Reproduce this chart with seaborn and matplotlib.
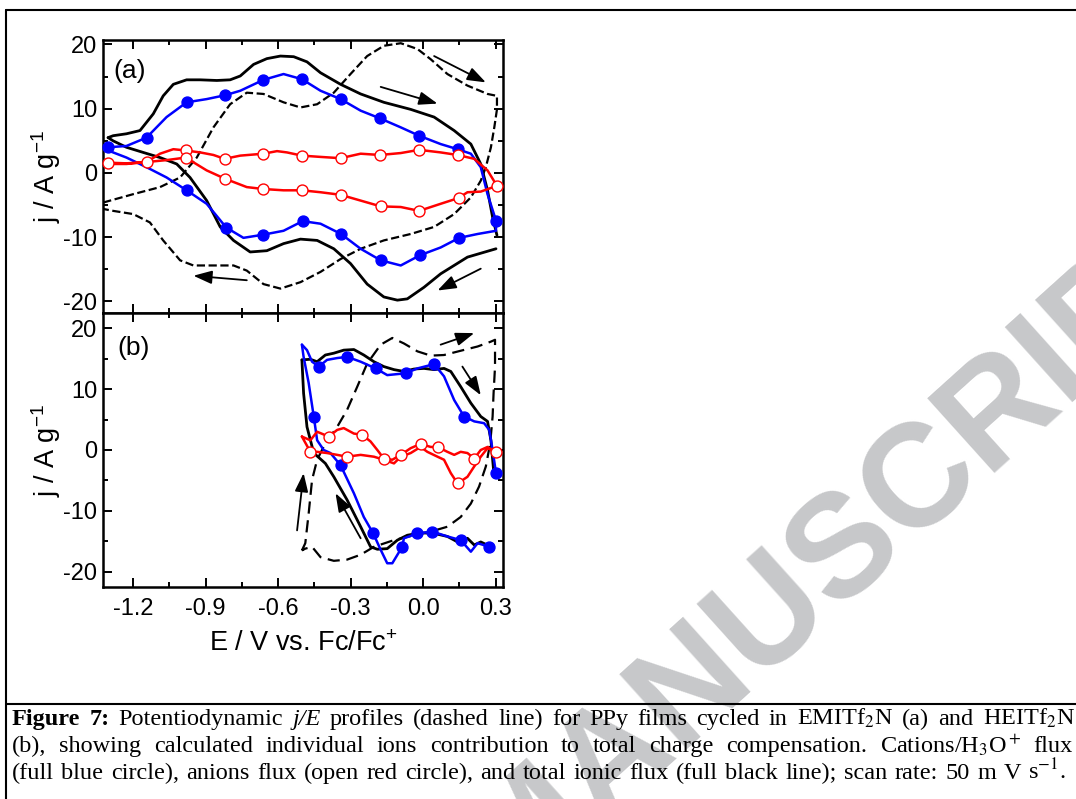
import matplotlib
matplotlib.use('Agg')
import matplotlib.pyplot as plt
import seaborn as sns
from matplotlib.lines import Line2D
from matplotlib.ticker import MultipleLocator

# ---- panel (a): EMITf2N ----
# dashed j/E profile (closed loop)
E_cv_a = [-1.324, -1.200, -1.089, -1.006, -0.937, -0.868, -0.799, -0.730, -0.661, -0.578,
          -0.508, -0.439, -0.370, -0.301, -0.232, -0.163, -0.093, -0.024, 0.031, 0.100,
          0.183, 0.266, 0.305, 0.305, 0.294, 0.280, 0.259, 0.238, 0.197, 0.128,
          0.045, -0.052, -0.163, -0.259, -0.342, -0.425, -0.508, -0.591, -0.661, -0.730,
          -0.785, -0.868, -0.951, -1.006, -1.076, -1.131, -1.200, -1.283, -1.324]
j_cv_a = [-4.6, -3.3, -2.2, -0.7, 2.4, 7.1, 10.7, 12.5, 12.3, 11.0,
          10.2, 10.7, 12.5, 15.4, 18.2, 19.8, 20.2, 19.3, 17.7, 15.4,
          13.6, 12.3, 12.0, 9.9, 7.1, 4.0, 0.9, -1.2, -3.8, -6.4,
          -8.4, -9.5, -10.5, -11.8, -13.4, -15.4, -17.0, -18.0, -17.3, -15.2,
          -14.4, -14.4, -14.4, -13.6, -10.5, -7.7, -6.4, -5.9, -5.6]

# total ionic flux (black), anodic and cathodic branches
E_tot_a_fwd = [-1.304, -1.283, -1.228, -1.172, -1.117, -1.076, -1.034, -0.979, -0.923, -0.854,
               -0.799, -0.757, -0.702, -0.647, -0.591, -0.536, -0.481, -0.425, -0.342, -0.259,
               -0.163, -0.052, 0.045, 0.128, 0.197, 0.238, 0.266, 0.287, 0.305]
j_tot_a_fwd = [5.5, 5.8, 6.1, 6.6, 9.2, 12.0, 13.8, 14.5, 14.5, 14.4,
               14.5, 15.1, 16.9, 17.8, 18.2, 18.1, 17.3, 15.6, 13.8, 12.3,
               11.0, 9.9, 8.7, 6.6, 4.5, 1.4, -2.7, -6.9, -9.7]
E_tot_a_rev = [0.301, 0.183, 0.072, 0.003, -0.066, -0.107, -0.163, -0.232, -0.301, -0.370,
               -0.439, -0.508, -0.578, -0.647, -0.716, -0.785, -0.840, -0.896, -0.965, -1.020,
               -1.089, -1.159, -1.228, -1.283, -1.304]
j_tot_a_rev = [-11.8, -13.1, -15.7, -17.8, -19.6, -19.8, -19.3, -17.3, -14.1, -11.8,
               -10.5, -10.3, -11.0, -12.1, -12.3, -10.5, -8.4, -4.3, -0.7, 1.4,
               2.4, 3.2, 4.0, 5.0, 5.5]

# cations / H3O+ flux (blue)
E_cat_a = [-1.304, -1.228, -1.145, -1.062, -0.979, -0.896, -0.820, -0.757, -0.661, -0.578,
           -0.502, -0.425, -0.342, -0.259, -0.179, -0.093, -0.017, 0.072, 0.142, 0.197,
           0.238, 0.266, 0.301, 0.301, 0.225, 0.149, 0.072, -0.013, -0.093, -0.176,
           -0.259, -0.340, -0.425, -0.499, -0.578, -0.661, -0.744, -0.815, -0.896, -0.979,
           -1.062, -1.145, -1.228, -1.304]
j_cat_a = [4.0, 4.2, 5.5, 8.7, 11.0, 11.5, 12.1, 12.8, 14.5, 15.4,
           14.6, 12.8, 11.5, 9.7, 8.5, 7.1, 5.8, 4.5, 3.7, 3.0,
           0.9, -3.3, -7.4, -9.0, -9.5, -10.1, -11.6, -12.8, -14.4, -13.6,
           -11.8, -9.5, -7.9, -7.5, -9.0, -9.6, -10.1, -8.5, -4.8, -2.7,
           -0.7, 0.9, 2.4, 3.5]
E_cat_a_pts = [-1.304, -1.145, -0.979, -0.820, -0.661, -0.502, -0.342, -0.179, -0.017, 0.142,
               0.301, 0.149, -0.013, -0.176, -0.340, -0.499, -0.661, -0.815, -0.979]
j_cat_a_pts = [4.0, 5.5, 11.0, 12.1, 14.5, 14.6, 11.5, 8.5, 5.8, 3.7,
               -7.4, -10.1, -12.8, -13.6, -9.5, -7.5, -9.6, -8.5, -2.7]

# anions flux (red)
E_an_a = [-1.304, -1.228, -1.145, -1.089, -1.034, -0.983, -0.923, -0.868, -0.822, -0.757,
          -0.661, -0.605, -0.564, -0.502, -0.425, -0.342, -0.259, -0.179, -0.093, -0.017,
          0.072, 0.142, 0.211, 0.266, 0.305, 0.238, 0.183, 0.146, 0.072, -0.017,
          -0.093, -0.176, -0.259, -0.342, -0.425, -0.502, -0.578, -0.661, -0.730, -0.820,
          -0.896, -0.983, -1.062, -1.145, -1.228, -1.304]
j_an_a = [1.4, 1.4, 1.7, 3.0, 3.7, 3.5, 3.2, 2.8, 2.2, 2.7,
          3.0, 3.4, 3.2, 2.7, 2.5, 2.3, 3.0, 2.8, 3.1, 3.6,
          3.2, 2.8, 2.2, 0.4, -2.0, -2.9, -3.0, -3.9, -4.8, -5.9,
          -5.3, -5.2, -4.3, -3.4, -3.0, -2.7, -2.7, -2.5, -2.2, -0.9,
          0.4, 2.4, 2.0, 1.7, 1.5, 1.6]
E_an_a_pts = [-1.304, -1.145, -0.983, -0.983, -0.822, -0.661, -0.502, -0.342, -0.179, -0.017,
              0.142, 0.305, 0.146, -0.017, -0.176, -0.342, -0.502, -0.661, -0.820]
j_an_a_pts = [1.6, 1.7, 3.5, 2.4, 2.2, 3.0, 2.7, 2.3, 2.8, 3.6,
              2.8, -2.0, -3.9, -5.9, -5.2, -3.4, -2.7, -2.5, -0.9]

# scan direction arrows (tail E, tail j, head E, head j)
arrows_a = [(0.045, 18.2, 0.259, 14.1), (-0.176, 13.4, 0.059, 10.8),
            (0.238, -14.9, 0.059, -18.3), (-0.730, -16.7, -0.951, -16.0)]

# ---- panel (b): HEITf2N ----
E_cv_b = [-0.502, -0.488, -0.474, -0.460, -0.439, -0.405, -0.356, -0.315, -0.273, -0.232,
          -0.176, -0.128, -0.080, -0.024, 0.031, 0.086, 0.155, 0.225, 0.280, 0.297,
          0.297, 0.291, 0.287, 0.277, 0.259, 0.231, 0.197, 0.155, 0.100, 0.031,
          -0.038, -0.121, -0.204, -0.259, -0.315, -0.370, -0.425, -0.460, -0.488, -0.502]
j_cv_b = [-16.5, -15.3, -10.4, -4.9, -1.6, 1.1, 3.8, 6.6, 10.4, 14.2,
          17.3, 18.4, 17.5, 16.2, 15.5, 15.6, 16.3, 17.0, 17.8, 18.1,
          13.7, 9.3, 5.5, 1.1, -2.7, -6.0, -8.8, -11.0, -12.6, -13.4,
          -14.0, -14.8, -15.9, -17.2, -18.0, -18.2, -17.6, -15.9, -16.2, -16.5]

E_tot_b_fwd = [-0.502, -0.467, -0.439, -0.405, -0.370, -0.329, -0.287, -0.246, -0.204, -0.163,
               -0.121, -0.080, -0.038, 0.003, 0.045, 0.086, 0.114, 0.155, 0.197, 0.238,
               0.266, 0.280, 0.291]
j_tot_b_fwd = [14.8, 14.9, 14.5, 15.6, 15.9, 16.4, 16.5, 15.6, 14.5, 13.7,
               13.2, 12.9, 13.3, 13.4, 13.2, 13.4, 12.9, 10.4, 7.7, 5.5,
               4.7, 1.6, -3.3]
E_tot_b_rev = [0.280, 0.238, 0.211, 0.183, 0.142, 0.100, 0.045, -0.011, -0.066, -0.107,
               -0.149, -0.190, -0.218, -0.259, -0.315, -0.370, -0.405, -0.453, -0.481, -0.495,
               -0.502]
j_tot_b_rev = [-15.9, -15.1, -15.6, -14.5, -15.1, -14.2, -13.7, -13.6, -14.0, -14.8,
               -16.2, -16.3, -15.9, -12.6, -8.2, -4.4, -2.2, -0.5, 3.8, 9.3,
               14.8]

E_cat_b_fwd = [-0.502, -0.481, -0.460, -0.432, -0.398, -0.356, -0.315, -0.259, -0.197, -0.149,
               -0.073, -0.024, 0.045, 0.086, 0.128, 0.169, 0.211, 0.252, 0.273, 0.287,
               0.301]
j_cat_b_fwd = [17.3, 16.4, 14.5, 13.7, 14.8, 15.1, 15.3, 14.5, 13.4, 12.3,
               12.6, 13.4, 14.1, 12.1, 8.2, 5.5, 4.7, 4.4, 3.3, 0.0,
               -3.8]
E_cat_b_rev = [0.273, 0.225, 0.197, 0.155, 0.100, 0.038, -0.024, -0.080, -0.087, -0.128,
               -0.149, -0.176, -0.207, -0.246, -0.287, -0.342, -0.384, -0.412, -0.439, -0.453,
               -0.474, -0.495, -0.502]
j_cat_b_rev = [-15.9, -15.3, -16.7, -14.8, -14.2, -13.4, -13.7, -14.5, -15.9, -18.6,
               -18.6, -16.4, -13.7, -11.0, -7.1, -2.5, -0.5, 0.0, 1.6, 5.5,
               11.0, 15.3, 17.3]
E_cat_b_pts = [-0.432, -0.315, -0.197, -0.073, 0.045, 0.169, 0.301, 0.273, 0.155, 0.038,
               -0.024, -0.087, -0.207, -0.342, -0.453]
j_cat_b_pts = [13.7, 15.3, 13.4, 12.6, 14.1, 5.5, -3.8, -15.9, -14.8, -13.4,
               -13.7, -15.9, -13.7, -2.5, 5.5]

E_an_b = [-0.502, -0.467, -0.439, -0.391, -0.356, -0.329, -0.287, -0.253, -0.218, -0.190,
          -0.163, -0.128, -0.093, -0.052, -0.011, 0.031, 0.059, 0.100, 0.128, 0.155,
          0.183, 0.211, 0.238, 0.266, 0.301, 0.266, 0.238, 0.211, 0.183, 0.142,
          0.114, 0.086, 0.059, 0.017, -0.011, -0.052, -0.093, -0.121, -0.163, -0.204,
          -0.259, -0.315, -0.356, -0.398, -0.439, -0.467, -0.502]
j_an_b = [2.2, 1.6, 3.0, 2.2, 3.3, 3.6, 2.7, 2.5, 1.4, 0.0,
          -1.4, -1.6, -0.8, 0.3, 1.0, 0.5, 0.5, -0.3, -0.8, -0.3,
          -0.5, -1.4, 0.0, 0.5, -0.4, 0.3, -1.1, -2.7, -4.4, -5.5,
          -3.8, -1.6, -1.1, -0.3, 0.5, -0.5, -1.1, -2.2, -1.6, -1.1,
          -0.8, -1.1, -0.8, -0.5, -0.3, -0.3, 2.2]
E_an_b_pts = [-0.467, -0.391, -0.315, -0.253, -0.163, -0.093, -0.011, 0.059, 0.142, 0.211, 0.301]
j_an_b_pts = [-0.3, 2.2, -1.1, 2.5, -1.4, -0.8, 1.0, 0.5, -5.5, -1.4, -0.4]

arrows_b = [(0.072, 17.3, 0.211, 19.2), (0.162, 13.7, 0.238, 9.0),
            (-0.259, -14.5, -0.363, -7.1), (-0.522, -13.2, -0.495, -3.8)]

# ---- caption ----
caption_lines = [
    [("Figure", "bold", "normal"), ("7:", "bold", "normal"), "Potentiodynamic",
     ("j/E", "normal", "italic"), "profiles", "(dashed", "line)", "for", "PPy", "films",
     "cycled", "in", r"EMITf$_2$N", "(a)", "and", r"HEITf$_2$N"],
    ["(b),", "showing", "calculated", "individual", "ions", "contribution", "to", "total",
     "charge", "compensation.", r"Cations/H$_3$O$^+$", "flux"],
    ["(full", "blue", "circle),", "anions", "flux", "(open", "red", "circle),", "and", "total",
     "ionic", "flux", "(full", "black", "line);", "scan", "rate:", "50", "m", "V", r"s$^{-1}$."],
]

W, H = 1076, 799
BLUE = '#0000ff'
RED = '#ff0000'

sns.set_style('ticks')
plt.rcParams['font.family'] = ['Liberation Sans', 'DejaVu Sans']
plt.rcParams['mathtext.fontset'] = 'custom'
plt.rcParams['mathtext.rm'] = 'Liberation Sans'
plt.rcParams['mathtext.it'] = 'Liberation Sans:italic'
plt.rcParams['mathtext.bf'] = 'Liberation Sans:bold'
plt.rcParams['axes.unicode_minus'] = False
plt.rcParams['text.color'] = 'black'
plt.rcParams['axes.labelcolor'] = 'black'
plt.rcParams['axes.edgecolor'] = 'black'
plt.rcParams['xtick.color'] = 'black'
plt.rcParams['ytick.color'] = 'black'

fig = plt.figure(figsize=(W / 100, H / 100), dpi=100)
ax_a = fig.add_axes([103 / W, 1 - 313 / H, 400 / W, 273 / H])
ax_b = fig.add_axes([103 / W, 1 - 587 / H, 400 / W, 274 / H])


def draw_line(ax, E, j, color, lw, ls='-', z=2):
    sns.lineplot(x=E, y=j, ax=ax, sort=False, estimator=None, color=color,
                 linewidth=lw, linestyle=ls, zorder=z)


def draw_points(ax, E, j, face, edge, z):
    sns.scatterplot(x=E, y=j, ax=ax, s=62, color=face, edgecolor=edge,
                    linewidth=1.0, zorder=z, clip_on=False)


def draw_arrows(ax, arrows):
    for e0, j0, e1, j1 in arrows:
        ax.annotate('', xy=(e1, j1), xytext=(e0, j0),
                    arrowprops=dict(arrowstyle='-|>,head_length=0.75,head_width=0.27',
                                    color='k', lw=1.3, shrinkA=0, shrinkB=0,
                                    mutation_scale=15))


# panel (a)
draw_line(ax_a, E_cv_a, j_cv_a, 'k', 1.6, '--', 2)
draw_line(ax_a, E_tot_a_fwd, j_tot_a_fwd, 'k', 2.0, '-', 3)
draw_line(ax_a, E_tot_a_rev, j_tot_a_rev, 'k', 2.0, '-', 3)
draw_line(ax_a, E_cat_a, j_cat_a, BLUE, 1.8, '-', 4)
draw_line(ax_a, E_an_a, j_an_a, RED, 1.8, '-', 4)
draw_points(ax_a, E_cat_a_pts, j_cat_a_pts, BLUE, BLUE, 6)
draw_points(ax_a, E_an_a_pts, j_an_a_pts, 'white', RED, 7)
draw_arrows(ax_a, arrows_a)

# panel (b)
draw_line(ax_b, E_cv_b, j_cv_b, 'k', 1.6, (0, (5.5, 3.0)), 2)
draw_line(ax_b, E_tot_b_fwd, j_tot_b_fwd, 'k', 2.0, '-', 3)
draw_line(ax_b, E_tot_b_rev, j_tot_b_rev, 'k', 2.0, '-', 3)
draw_line(ax_b, E_cat_b_fwd, j_cat_b_fwd, BLUE, 1.8, '-', 4)
draw_line(ax_b, E_cat_b_rev, j_cat_b_rev, BLUE, 1.8, '-', 4)
draw_line(ax_b, E_an_b, j_an_b, RED, 1.8, '-', 4)
draw_points(ax_b, E_cat_b_pts, j_cat_b_pts, BLUE, BLUE, 6)
draw_points(ax_b, E_an_b_pts, j_an_b_pts, 'white', RED, 7)
draw_arrows(ax_b, arrows_b)

ax_a.set_ylim(-21.8, 20.7)
ax_b.set_ylim(-22.5, 22.5)
for ax in (ax_a, ax_b):
    ax.set_xlim(-1.325, 0.33)
    ax.xaxis.set_major_locator(MultipleLocator(0.3))
    ax.xaxis.set_minor_locator(MultipleLocator(0.15))
    ax.yaxis.set_major_locator(MultipleLocator(10))
    ax.yaxis.set_minor_locator(MultipleLocator(5))
    ax.tick_params(which='both', direction='in', top=True, right=True, width=1.4,
                   labelsize=17)
    ax.tick_params(which='major', length=6.5)
    ax.tick_params(which='minor', length=3.5)
    ax.tick_params(axis='y', pad=4)
    ax.tick_params(axis='x', pad=8)
    for sp in ax.spines.values():
        sp.set_visible(True)
        sp.set_linewidth(1.8)
    ax.set_ylabel('j / A g$^{-1}$', fontsize=19.5)
    ax.yaxis.set_label_coords(-0.10, 0.5)
    ax.set_xlabel('')

ax_a.tick_params(labelbottom=False)
ax_b.set_xlabel('E / V vs. Fc/Fc$^{+}$', fontsize=19.5)
ax_b.xaxis.set_label_coords(0.5, -0.16)

ax_a.text(0.025, 0.885, '(a)', transform=ax_a.transAxes, fontsize=19,
          ha='left', va='center')
ax_b.text(0.037, 0.872, '(b)', transform=ax_b.transAxes, fontsize=19,
          ha='left', va='center')

# frame around figure and caption
frame_kw = dict(color='k', linewidth=1.5, transform=fig.transFigure, zorder=2)
fig.add_artist(Line2D([6 / W, 6 / W], [1 - 10 / H, -0.01], **frame_kw))
fig.add_artist(Line2D([6 / W, 1.01], [1 - 10 / H, 1 - 10 / H], **frame_kw))
fig.add_artist(Line2D([6 / W, 1.01], [1 - 704 / H, 1 - 704 / H], **frame_kw))

# watermark (baseline anchor in pixels, mostly outside the crop)
fig.text(560 / W, 1 - 864 / H, "ACCEPTED MANUSCRIPT", rotation=42,
         rotation_mode='anchor', ha='center', va='baseline', fontsize=105,
         fontweight='bold', color='#c7c8ca', zorder=1)

# justified caption
cap_left = 12
cap_right = [1075, 1073, 1066]
cap_base = [725, 752, 779]
fs = 17.5
fig.canvas.draw()
renderer = fig.canvas.get_renderer()
rows = []
for words, yb in zip(caption_lines, cap_base):
    row = []
    for w in words:
        if isinstance(w, tuple):
            txt, weight, style = w
        else:
            txt, weight, style = w, 'normal', 'normal'
        t = fig.text(0, 1 - yb / H, txt, fontsize=fs, family='Liberation Serif',
                     weight=weight, style=style, ha='left', va='baseline',
                     math_fontfamily='stix', zorder=3)
        row.append(t)
    rows.append(row)

scale = 1.0
for row, right in zip(rows, cap_right):
    widths = [t.get_window_extent(renderer).width for t in row]
    need = sum(widths) + 0.14 * fs * 100 / 72 * (len(row) - 1)
    scale = min(scale, (right - cap_left) / need)
if scale < 1.0:
    for row in rows:
        for t in row:
            t.set_fontsize(fs * scale)

for row, right in zip(rows, cap_right):
    widths = [t.get_window_extent(renderer).width for t in row]
    gap = (right - cap_left - sum(widths)) / (len(row) - 1)
    x = cap_left
    for t, w in zip(row, widths):
        t.set_x(x / W)
        x += w + gap

fig.savefig('out.png', dpi=100)
